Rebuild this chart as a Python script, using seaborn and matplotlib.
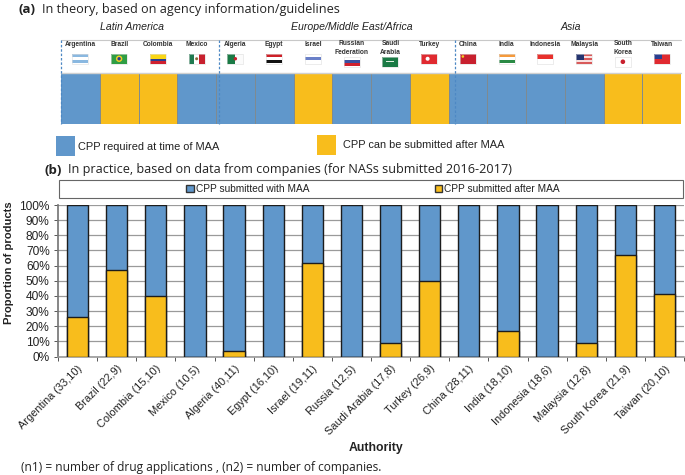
import numpy as np
import pandas as pd
import matplotlib
matplotlib.use('Agg')
import matplotlib.pyplot as plt
from matplotlib.colors import ListedColormap
from matplotlib.patches import Rectangle, Patch, Circle
from matplotlib.transforms import ScaledTranslation
import seaborn as sns

#%%
# data
countries = ['Argentina', 'Brazil', 'Colombia', 'Mexico', 'Algeria', 'Egypt', 'Israel',
             'Russian\nFederation', 'Saudi\nArabia', 'Turkey', 'China', 'India',
             'Indonesia', 'Malaysia', 'South\nKorea', 'Taiwan']
# 0 = required at time of MAA, 1 = can be submitted after
policy = [0, 1, 1, 0, 0, 0, 1, 0, 0, 1, 0, 0, 0, 0, 1, 1]
authority = ['Argentina (33,10)', 'Brazil (22,9)', 'Colombia (15,10)', 'Mexico (10,5)',
             'Algeria (40,11)', 'Egypt (16,10)', 'Israel (19,11)', 'Russia (12,5)',
             'Saudi Arabia (17,8)', 'Turkey (26,9)', 'China (28,11)', 'India (18,10)',
             'Indonesia (18,6)', 'Malaysia (12,8)', 'South Korea (21,9)', 'Taiwan (20,10)']
after_maa = [26, 57, 40, 0, 3.5, 0, 61.5, 0, 9, 50, 0, 17, 0, 9, 67, 41.5]
with_maa = [74, 43, 60, 100, 96.5, 100, 38.5, 100, 91, 50, 100, 83, 100, 91, 33, 58.5]
y_ticks = [0, 10, 20, 30, 40, 50, 60, 70, 80, 90, 100]

BLUE = '#6097cb'
YELLOW = '#f8bd1c'
W, H = 685, 475
SANS = 'Liberation Sans'
TITLE = 'Open Sans'

flags = {
    'Argentina': ('h', ['#8ab8e0', '#ffffff', '#8ab8e0']),
    'Brazil': ('h', ['#2f9e44']),
    'Colombia': ('h', ['#f9d616', '#f9d616', '#2a3f90', '#d0202e']),
    'Mexico': ('v', ['#1f7a50', '#ffffff', '#c8202e']),
    'Algeria': ('v', ['#1a7a45', '#fbfbfb']),
    'Egypt': ('h', ['#ce2028', '#ffffff', '#111111']),
    'Israel': ('h', ['#ffffff', '#6a80c8', '#ffffff']),
    'Russian\nFederation': ('h', ['#ffffff', '#3a50a0', '#d0202e']),
    'Saudi\nArabia': ('h', ['#1a7a45']),
    'Turkey': ('h', ['#e02a30']),
    'China': ('h', ['#c8202e']),
    'India': ('h', ['#f59a3c', '#ffffff', '#2a8a45']),
    'Indonesia': ('h', ['#e8302c', '#ffffff']),
    'Malaysia': ('h', ['#d85a5a', '#f8e0e0', '#d85a5a', '#f8e0e0', '#d85a5a']),
    'South\nKorea': ('h', ['#ffffff']),
    'Taiwan': ('h', ['#e02a30']),
}


def box(x0, y0, x1, y1):
    return [x0 / W, 1 - y1 / H, (x1 - x0) / W, (y1 - y0) / H]


sns.set_theme(style='white')
plt.rcParams['font.family'] = SANS
fig = plt.figure(figsize=(6.85, 4.75), dpi=100, facecolor='white')

#%%
# (a) policy strip
ax_a = fig.add_axes(box(61, 73, 681, 123.5))
sns.heatmap(np.array([policy]), ax=ax_a, cmap=ListedColormap([BLUE, YELLOW]), cbar=False,
            xticklabels=False, yticklabels=False, vmin=0, vmax=1)
ax_a.vlines(range(1, 16), 0, 1, color='#7f8a90', lw=0.7)

#%%
# (b) stacked bars
df = pd.DataFrame({'authority': authority, 'after': after_maa, 'total': np.array(after_maa) + np.array(with_maa)})
ax_b = fig.add_axes(box(58, 205, 684, 356.5))
sns.barplot(data=df, x='authority', y='total', color=BLUE, ax=ax_b, width=0.54,
            edgecolor='#1c1c1c', linewidth=1, saturation=1, zorder=3)
sns.barplot(data=df, x='authority', y='after', color=YELLOW, ax=ax_b, width=0.54,
            edgecolor='#1c1c1c', linewidth=1, saturation=1, zorder=4)
ax_b.set_ylim(0, 100)
ax_b.set_xlim(-0.5, 15.5)
ax_b.set_yticks(y_ticks)
ax_b.set_yticklabels([f'{v}%' for v in y_ticks], fontsize=8.6, color='#222222')
ax_b.set_xticks(np.arange(-0.5, 16, 1), minor=True)
ax_b.set_xticks(range(16))
ax_b.set_xticklabels(authority, rotation=45, ha='right', rotation_mode='anchor', fontsize=7.9,
                     color='#222222')
shift = ScaledTranslation(-2 / 100, 0, fig.dpi_scale_trans)
for lab in ax_b.get_xticklabels():
    lab.set_transform(lab.get_transform() + shift)
ax_b.tick_params(axis='x', which='major', length=0, pad=5)
ax_b.tick_params(axis='x', which='minor', length=3, width=0.7, color='#555555', bottom=True)
ax_b.tick_params(axis='y', length=3, width=0.7, color='#555555', left=True, pad=3)
ax_b.grid(axis='y', color='#9a9a9a', linewidth=0.9, zorder=0)
ax_b.set_axisbelow(True)
sns.despine(ax=ax_b, top=True, right=True)
ax_b.spines['left'].set_color('#777777')
ax_b.spines['bottom'].set_color('#999999')
ax_b.spines['bottom'].set_linewidth(1.2)
ax_b.set_xlabel('')
ax_b.set_ylabel('')
handles = [Patch(facecolor=BLUE, edgecolor='#333333', label='CPP submitted with MAA'),
           Patch(facecolor=YELLOW, edgecolor='#333333', label='CPP submitted after MAA')]
fig.legend(handles=handles, ncol=2, loc='center', bbox_to_anchor=(373 / W, 1 - 189 / H), frameon=False,
           fontsize=7.3, handlelength=0.7, handleheight=0.7, handletextpad=0.2, columnspacing=12.4,
           labelcolor='#222222')

#%%
# overlay in pixel coordinates for text, flags and frames
ov = fig.add_axes([0, 0, 1, 1], zorder=5)
ov.set_xlim(0, W)
ov.set_ylim(H, 0)
ov.axis('off')

ov.text(19, 9.5, '(a)', fontsize=9.5, fontweight='bold', family=TITLE, va='center', color='#222222')
ov.text(42, 9.5, 'In theory, based on agency information/guidelines', fontsize=9.05, family=TITLE,
        va='center', color='#222222')
ov.text(45, 170, '(b)', fontsize=9.5, fontweight='bold', family=TITLE, va='center', color='#222222')
ov.text(68, 170, 'In practice, based on data from companies (for NASs submitted 2016-2017)', fontsize=9.05,
        family=TITLE, va='center', color='#222222')

for label, x in [('Latin America', 132), ('Europe/Middle East/Africa', 352), ('Asia', 571)]:
    ov.text(x, 27.5, label, fontsize=7.6, style='italic', ha='center', va='center', color='#222222')

# header frame lines
ov.plot([61, 681], [40, 40], color='#c8c8c8', lw=0.8)
ov.plot([61, 681], [72.8, 72.8], color='#d0d0d0', lw=1)
for x in [61.5, 219, 455]:
    ov.plot([x, x], [40, 123.5], color='#4d88c4', lw=0.9, ls=(0, (2, 1.5)))

cell = (681 - 61) / 16
for i, name in enumerate(countries):
    cx = 61 + cell * (i + 0.5)
    ov.text(cx, 48 if '\n' in name else 44.5, name, fontsize=4.8, fontweight='bold', ha='center',
            va='center', color='#333333', linespacing=1.25)
    # two-line names push the flag down
    top = 57 if '\n' in name else 54
    w, h = 16, 9.5
    kind, colors = flags[name]
    n = len(colors)
    for k, c in enumerate(colors):
        if kind == 'h':
            r = Rectangle((cx - w / 2, top + h * k / n), w, h / n, fc=c, lw=0)
        else:
            r = Rectangle((cx - w / 2 + w * k / n, top), w / n, h, fc=c, lw=0)
        ov.add_patch(r)
    if name == 'Brazil':
        ov.add_patch(Circle((cx, top + h / 2), 3.2, fc='#f2d024', lw=0))
        ov.add_patch(Circle((cx, top + h / 2), 1.7, fc='#2a3f90', lw=0))
    if name == 'Taiwan':
        ov.add_patch(Rectangle((cx - w / 2, top), w / 2, h / 2, fc='#2a3f90', lw=0))
    if name == 'Malaysia':
        ov.add_patch(Rectangle((cx - w / 2, top), w / 2, h * 0.6, fc='#24346f', lw=0))
    if name == 'South\nKorea':
        ov.add_patch(Circle((cx, top + h / 2), 2.3, fc='#c8202e', lw=0))
    if name == 'Turkey':
        ov.add_patch(Circle((cx - 1.5, top + h / 2), 2, fc='#ffffff', lw=0))
    if name == 'Mexico':
        ov.add_patch(Circle((cx, top + h / 2), 1.5, fc='#8a6a3a', lw=0))
    if name == 'China':
        ov.add_patch(Circle((cx - 5, top + 2.5), 1.3, fc='#f2d024', lw=0))
    if name == 'Saudi\nArabia':
        ov.add_patch(Rectangle((cx - 4, top + 3.5), 8, 1.5, fc='#e0efe0', lw=0))
    if name == 'Algeria':
        ov.add_patch(Circle((cx, top + h / 2), 1.7, fc='#c8202e', lw=0))
    # thin outline so the white parts read as a flag
    ov.add_patch(Rectangle((cx - w / 2, top), w, h, fc='none', ec='#dddddd', lw=0.4))

# legend of (a)
ov.add_patch(Rectangle((56, 135.5), 19, 20, fc=BLUE, lw=0))
ov.text(78.5, 146.5, 'CPP required at time of MAA', fontsize=7.9, va='center', color='#222222')
ov.add_patch(Rectangle((317, 134.5), 19, 20, fc=YELLOW, lw=0))
ov.text(343.5, 144.5, 'CPP can be submitted after MAA', fontsize=7.9, va='center', color='#222222')

# legend frame of (b)
ov.add_patch(Rectangle((59.5, 179.5), 623.5, 18.5, fc='none', ec='#666666', lw=0.8))

ov.text(9, 263, 'Proportion of products', rotation=90, fontsize=8.1, fontweight='bold', ha='center',
        va='center', color='#222222')
ov.text(376, 448, 'Authority', fontsize=8.8, fontweight='bold', ha='center',
        va='center', color='#222222')
ov.text(21, 468, '(n1) = number of drug applications , (n2) = number of companies.', fontsize=8.6,
        family=TITLE, va='center', color='#222222')

fig.savefig('out.png', dpi=100)
